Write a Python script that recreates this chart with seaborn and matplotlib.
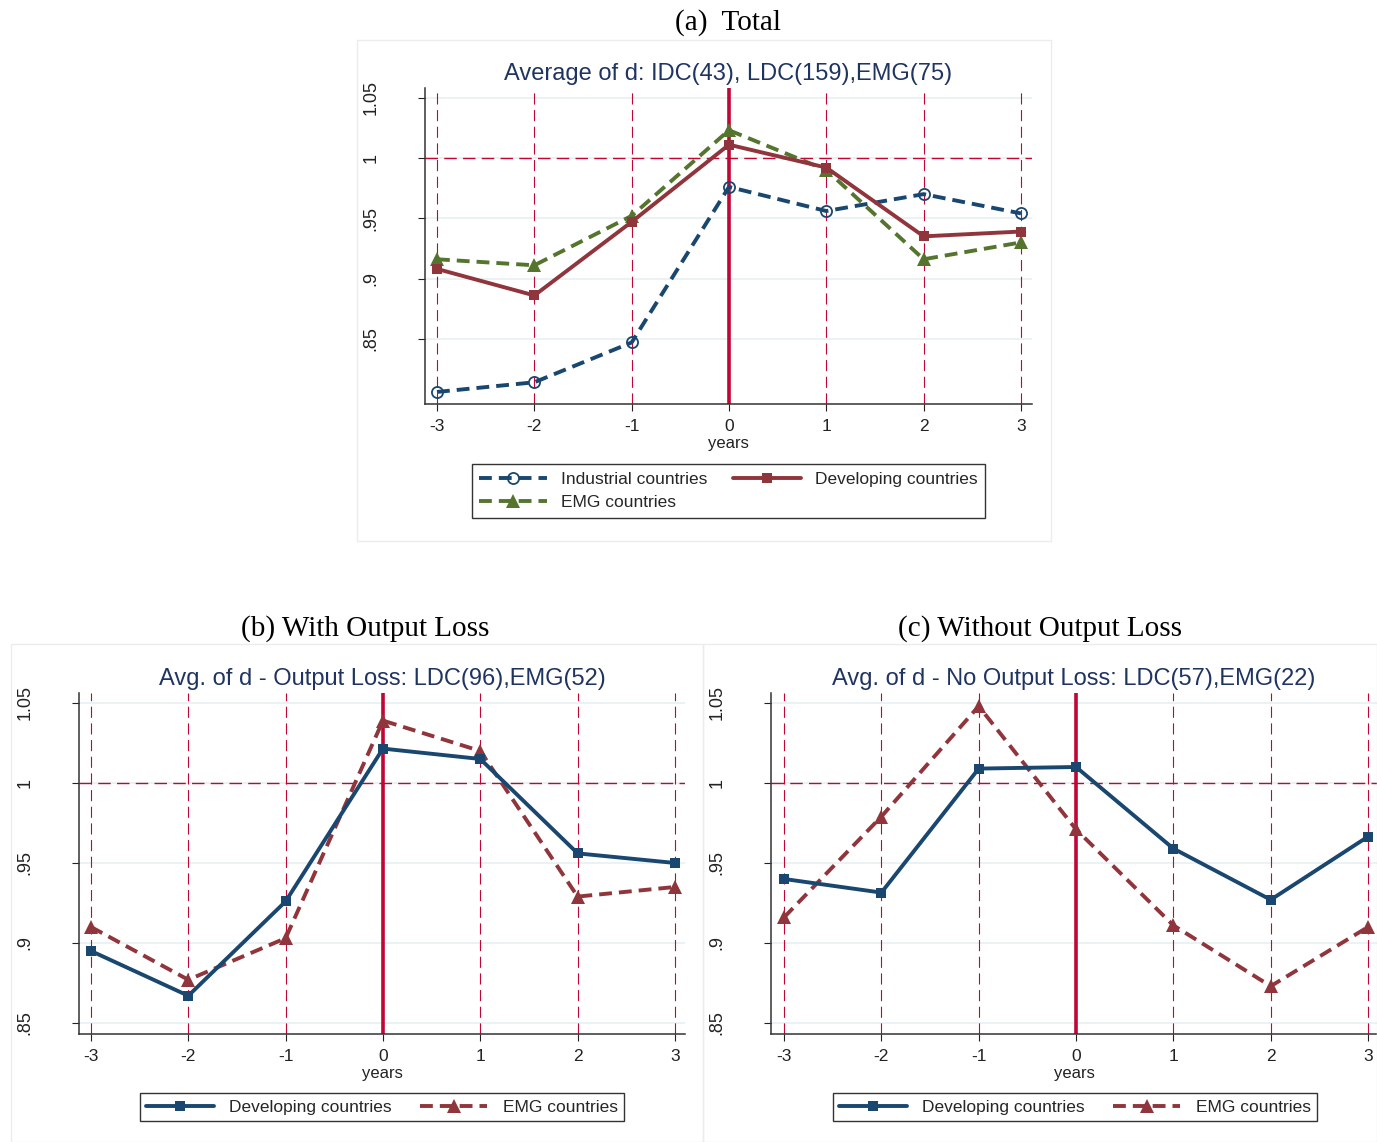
import matplotlib
matplotlib.use('Agg')
import matplotlib.pyplot as plt
from matplotlib.lines import Line2D
from matplotlib.patches import Rectangle
import seaborn as sns

sns.set_theme(style='white')
plt.rcParams['font.family'] = ['Liberation Sans', 'DejaVu Sans']

years = [-3, -2, -1, 0, 1, 2, 3]
ytick_vals = [0.85, 0.9, 0.95, 1.0, 1.05]
ytick_labels = ['.85', '.9', '.95', '1', '1.05']

# (a) Total
total_idc = [0.806, 0.814, 0.847, 0.976, 0.956, 0.970, 0.954]
total_ldc = [0.908, 0.886, 0.947, 1.011, 0.992, 0.935, 0.939]
total_emg = [0.916, 0.911, 0.952, 1.023, 0.990, 0.916, 0.930]
# (b) With output loss
loss_ldc = [0.895, 0.867, 0.926, 1.0215, 1.015, 0.956, 0.950]
loss_emg = [0.910, 0.877, 0.903, 1.039, 1.020, 0.929, 0.935]
# (c) Without output loss
noloss_ldc = [0.940, 0.9315, 1.009, 1.010, 0.959, 0.927, 0.9665]
noloss_emg = [0.916, 0.979, 1.048, 0.971, 0.911, 0.873, 0.910]

NAVY = '#1a476f'
MAROON = '#90353b'
GREEN = '#55752f'
CRAN = '#c10534'
TITLE_C = '#1f3461'
DASH = (0, (3.3, 1.8))

W, H = 1377, 1142
fig = plt.figure(figsize=(W / 100, H / 100), dpi=100)


def px_axes(left, top, right, bottom):
    return fig.add_axes([left / W, 1 - bottom / H, (right - left) / W, (bottom - top) / H])


def frame(left, top, right, bottom):
    fig.patches.append(Rectangle((left / W, 1 - bottom / H), (right - left) / W, (bottom - top) / H,
                                 transform=fig.transFigure, fill=False, edgecolor='#ececec', lw=1))


def style_axes(ax, xlim, ylim):
    ax.set_xlim(xlim)
    ax.set_ylim(ylim)
    for y in ytick_vals:
        ax.axhline(y, color='#eaf2f3', lw=1.4, zorder=0)
    for x in years:
        if x == 0:
            ax.axvline(x, color=CRAN, lw=2.6, zorder=1)
        else:
            ax.axvline(x, color=CRAN, lw=0.8, ls=(0, (10, 5)), zorder=1)
    ax.axhline(1.0, color=CRAN, lw=1.0, ls=(0, (9, 4.5)), zorder=1)
    ax.set_xticks(years)
    ax.set_xticklabels([str(x) for x in years], fontsize=12.5)
    ax.set_yticks(ytick_vals)
    ax.set_yticklabels(ytick_labels, fontsize=13, rotation=90, va='center')
    ax.tick_params(axis='y', direction='out', length=5, width=0.8, pad=28, colors='#222222',
                   left=True)
    ax.tick_params(axis='x', direction='out', length=5, width=0.8, pad=6, colors='#222222',
                   bottom=True)
    for s in ['top', 'right']:
        ax.spines[s].set_visible(False)
    for s in ['left', 'bottom']:
        ax.spines[s].set_color('#333333')
        ax.spines[s].set_linewidth(1.1)
    ax.set_xlabel('years', fontsize=12, labelpad=1, color='#222222')
    ax.set_ylabel('')
    ax.set_facecolor('white')


# ---------- panel (a) ----------
frame(357, 40, 1051, 541)
ax_a = px_axes(425, 88, 1032, 404)
sns.lineplot(x=years, y=total_idc, ax=ax_a, color=NAVY, lw=2.8, linestyle=DASH, marker='o',
             markersize=8, markerfacecolor='none', markeredgecolor=NAVY, markeredgewidth=1.3, zorder=3)
sns.lineplot(x=years, y=total_emg, ax=ax_a, color=GREEN, lw=2.8, linestyle=DASH, marker='^',
             markersize=10, markeredgewidth=0, zorder=3)
sns.lineplot(x=years, y=total_ldc, ax=ax_a, color=MAROON, lw=2.8, marker='s',
             markersize=6.5, markeredgewidth=0, zorder=4)
style_axes(ax_a, (-3.123, 3.113), (0.796, 1.058))
ax_a.set_title('Average of d: IDC(43), LDC(159),EMG(75)', fontsize=17, color=TITLE_C, pad=6)
fig.text(728 / W, 1 - 23 / H, '(a)  Total', family=['Liberation Serif', 'DejaVu Serif'],
         fontsize=21, ha='center', va='center', color='black')

h_idc = Line2D([], [], color=NAVY, lw=2.8, linestyle=DASH, marker='o', markersize=8,
               markerfacecolor='none', markeredgecolor=NAVY, markeredgewidth=1.3)
h_emg = Line2D([], [], color=GREEN, lw=2.8, linestyle=DASH, marker='^', markersize=10,
               markeredgewidth=0)
h_ldc = Line2D([], [], color=MAROON, lw=2.8, marker='s', markersize=6.5, markeredgewidth=0)
leg = fig.legend([h_idc, h_emg, h_ldc], ['Industrial countries', 'EMG countries', 'Developing countries'],
                 loc='center', bbox_to_anchor=(728.5 / W, 1 - 491 / H), ncol=2, fontsize=12.5,
                 frameon=True, fancybox=False, edgecolor='black', handlelength=3.9,
                 columnspacing=1.5, handletextpad=0.8, borderpad=0.45, labelspacing=0.45)
leg.get_frame().set_linewidth(1.0)

# ---------- panels (b) and (c) ----------
panels = [
    dict(frame=(11, 644, 703, 1142), axes=(79, 693, 685, 1034), xlim=(-3.123, 3.103),
         ldc=loss_ldc, emg=loss_emg, head='(b) With Output Loss', head_x=365,
         title='Avg. of d - Output Loss: LDC(96),EMG(52)', leg_x=382),
    dict(frame=(703, 644, 1377, 1142), axes=(771, 693, 1377, 1034), xlim=(-3.134, 3.092),
         ldc=noloss_ldc, emg=noloss_emg, head='(c) Without Output Loss', head_x=1040,
         title='Avg. of d - No Output Loss: LDC(57),EMG(22)', leg_x=1075),
]

for p in panels:
    frame(*p['frame'])
    ax = px_axes(*p['axes'])
    sns.lineplot(x=years, y=p['emg'], ax=ax, color=MAROON, lw=2.8, linestyle=DASH, marker='^',
                 markersize=10, markeredgewidth=0, zorder=3)
    sns.lineplot(x=years, y=p['ldc'], ax=ax, color=NAVY, lw=2.8, marker='s',
                 markersize=6.5, markeredgewidth=0, zorder=4)
    style_axes(ax, p['xlim'], (0.8431, 1.05625))
    ax.set_title(p['title'], fontsize=17, color=TITLE_C, pad=6)
    fig.text(p['head_x'] / W, 1 - 629 / H, p['head'], family=['Liberation Serif', 'DejaVu Serif'],
             fontsize=21, ha='center', va='center', color='black')
    hl = Line2D([], [], color=NAVY, lw=2.8, marker='s', markersize=6.5, markeredgewidth=0)
    he = Line2D([], [], color=MAROON, lw=2.8, linestyle=DASH, marker='^', markersize=10,
                markeredgewidth=0)
    lg = fig.legend([hl, he], ['Developing countries', 'EMG countries'], loc='center',
                    bbox_to_anchor=(p['leg_x'] / W, 1 - 1107 / H), ncol=2, fontsize=12.5,
                    frameon=True, fancybox=False, edgecolor='black', handlelength=3.9,
                    columnspacing=1.6, handletextpad=0.9, borderpad=0.35)
    lg.get_frame().set_linewidth(1.0)

fig.savefig('out.png', dpi=100, facecolor='white')
